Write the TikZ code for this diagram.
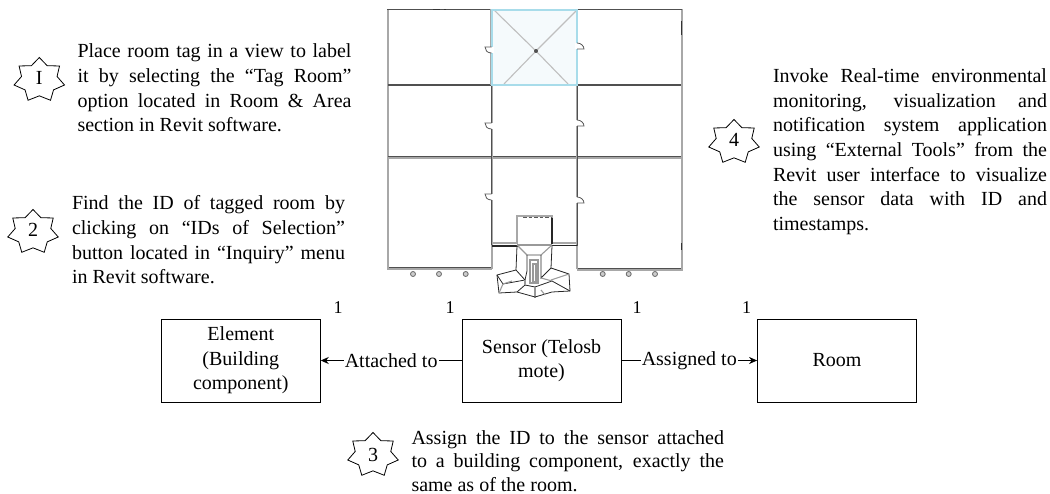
\documentclass[tikz,border=0pt]{standalone}
\usepackage{fontspec}
\setmainfont{Liberation Serif}
\usetikzlibrary{shapes.geometric,arrows.meta}
\definecolor{wallgray}{HTML}{A8A8A8}
\definecolor{walldark}{HTML}{505050}
\definecolor{roomfill}{HTML}{F5FAFC}
\definecolor{roomblue}{HTML}{A8DCEA}
\newcommand{\jblock}[3]{\parbox[t]{#1}{\fontsize{20}{#2}\selectfont #3}}
\tikzset{
  txt/.style={anchor=base west,inner sep=0pt,outer sep=0pt},
  burst/.style={star,star points=7,star point ratio=1.42,draw=black,line width=0.8pt,minimum size=45pt,inner sep=0pt,outer sep=0pt,xscale=1.15,transform shape},
  burstnum/.style={font=\fontsize{20}{24}\selectfont,inner sep=0pt},
  ebox/.style={draw=black,line width=0.85pt,minimum width=159pt,minimum height=83pt,inner sep=0pt,align=center,font=\fontsize{20}{24.6}\selectfont},
  one/.style={font=\fontsize{18}{20}\selectfont,inner sep=0pt},
  rel/.style={draw=black,line width=0.85pt},
  relhead/.style={-{Stealth[length=8pt,width=7pt]}},
  rellabel/.style={font=\fontsize{20}{24}\selectfont,fill=white,inner sep=1pt},
  wall/.style={draw=wallgray,line width=2.4pt},
  dwall/.style={draw=walldark,line width=1.6pt},
  thin wall/.style={draw=black!85,line width=0.8pt},
  pale wall/.style={draw=black!40,line width=1.1pt},
  door/.style={draw=black!65,line width=0.8pt},
  col/.style={draw=black!60,fill=black!20,line width=0.8pt,circle,minimum size=5pt,inner sep=0pt}
}
\begin{document}
\begin{tikzpicture}[x=1pt,y=-1pt]
\useasboundingbox (0,0) rectangle (1050,494);
% floor plan
\fill[roomfill] (492,10) rectangle (577,85);
\draw[pale wall,draw=black!25] (494,10) -- (536,51) -- (577,10);
\draw[pale wall,draw=black!25] (504,84) -- (536,51) -- (568,84);
\fill[walldark] (536,51) circle (2pt);
\draw[wall] (388,9) -- (388,269) -- (491.5,269);
\draw[wall] (577,269.5) -- (682,269.5) -- (682,9);
\draw[dwall] (387,9.5) -- (491,9.5);
\draw[dwall] (578,9.5) -- (682,9.5);
\draw[dwall] (388,85) -- (492,85);
\draw[dwall] (578,85) -- (681,85);
\draw[wall] (388,157.5) -- (492,157.5);
\draw[wall] (578,157.5) -- (681,157.5);
\draw[wall] (492,157.5) -- (577,157.5);
\draw[dwall,line width=1pt] (388,156.6) -- (681,156.6);
\draw[wall] (491.5,9) -- (491.5,85);
\draw[wall] (491.7,85) -- (491.7,269);
\draw[dwall] (491.5,85) -- (491.5,245);
\draw[wall] (577,85) -- (577,269);
\draw[walldark,line width=0.9pt] (577.8,85) -- (577.8,246);
\draw[walldark,line width=0.9pt] (389,267.8) -- (491,267.8);
\draw[walldark,line width=0.9pt] (578,268.3) -- (681,268.3);
\draw[black!80,line width=1.6pt] (433,9.5) -- (440,9.5) (444,9.5) -- (446,9.5);
\draw[black!80,line width=1.5pt] (681.5,21) -- (681.5,35) (681.5,243) -- (681.5,250);
\draw[draw=roomblue,line width=1.1pt] (492,10) rectangle (577,85);
% doors
\foreach \yy in {47,123,194}{
  \fill[white] (488,\yy) rectangle (494,\yy+6);
  \draw[door] (491.5,\yy+6) .. controls (487,\yy+6) and (485,\yy+3) .. (485,\yy) -- (491.5,\yy);
}
\foreach \yy in {43,120,197}{
  \fill[white] (575,\yy) rectangle (579,\yy+6);
  \draw[door] (577,\yy) .. controls (581,\yy) and (584,\yy+3) .. (584,\yy+6) -- (577,\yy+6);
}
% entrance
\draw[wall] (491.7,243) -- (517,243) -- (517,216) -- (552,216) -- (552,243) -- (577,243);
\draw[thin wall,line width=1.1pt] (491.7,246) -- (519,246) (550,245.5) -- (577,245.5);
\draw[thin wall,line width=1.1pt] (552,218) -- (552,244);
\draw[black!65,line width=1.6pt,dash pattern=on 3.5pt off 2pt] (523,217.5) -- (552,217.5);
\draw[pale wall] (517,245) -- (552,245);
\draw[pale wall] (517,245) -- (527,255) -- (541,255) -- (552,245);
\draw[thin wall] (517,246) -- (516,270) -- (497,275) -- (499,293) -- (517,292);
\draw[thin wall] (527,255) -- (527,271) -- (525,280);
\draw[thin wall] (541,255) -- (541,278) -- (551,268) -- (552,246);
\draw[pale wall] (530,260) rectangle (538,283);
\draw[pale wall] (533,264) rectangle (536,282);
\draw[thin wall] (516,270) -- (525,280) -- (503,284) -- (497,275);
\draw[pale wall] (503,284) -- (499,293) (503,284) -- (512,281);
\draw[thin wall] (517,292) -- (525,285) -- (535,287) -- (552,281) -- (570,291);
\draw[pale wall] (525,280) -- (525,285) (535,287) -- (535,298);
\draw[thin wall] (517,292) -- (535,297) -- (552,292) -- (570,291) -- (569,274) -- (551,268);
\draw[pale wall] (551,280) -- (569,274) (541,278) -- (552,281) (541,290) -- (545,295);
% columns
\foreach \xx/\nm in {413/a,439/b,465.7/c,602.7/d,628.7/e,655/f}{
  \node[col] (col\nm) at (\xx,274) {};
}
% text blocks
\node[txt] (t1) at (77.5,58) {\jblock{274pt}{24.6}{Place room tag in a view to label\linebreak it by selecting the “Tag Room”\linebreak option located in Room \& Area\linebreak section in Revit software.}};
\node[txt] (t2) at (72,210) {\jblock{273pt}{24.6}{Find the ID of tagged room by\linebreak clicking on “IDs of Selection”\linebreak button located in “Inquiry” menu\linebreak in Revit software.}};
\node[txt] (t3) at (411.5,444) {\jblock{312.5pt}{23.8}{Assign the ID to the sensor attached\linebreak to a building component, exactly the\linebreak same as of the room.}};
\node[txt] (t4) at (773,82.7) {\jblock{274pt}{24.6}{Invoke Real-time environmental\linebreak monitoring, visualization and\linebreak notification system application\linebreak using “External Tools” from the\linebreak Revit user interface to visualize\linebreak the sensor data with ID and\linebreak timestamps.}};
% stars
\node[burst] (s1) at (39.3,80) {};
\node[burstnum] (n1) at (39.3,78) {I};
\node[burst] (s2) at (33,232) {};
\node[burstnum] (n2) at (33,230) {2};
\node[burst] (s3) at (373,455) {};
\node[burstnum] (n3) at (373,454.5) {3};
\node[burst] (s4) at (734,142) {};
\node[burstnum] (n4) at (734,140) {4};
% entity boxes
\node[ebox] (element) at (240.8,360.5) {Element\\(Building\\component)};
\node[ebox] (sensor) at (541.5,360.5) {Sensor (Telosb\\mote)};
\node[ebox] (room) at (837,360.5) {Room};
\draw[rel,relhead] (sensor) -- node[rellabel] (l1) {Attached to} (element);
\draw[rel,relhead] (sensor) -- node[rellabel] (l2) {Assigned to} (room);
% cardinalities
\node[one] (c1) at (338,308) {1};
\node[one] (c2) at (450,308) {1};
\node[one] (c3) at (637,308) {1};
\node[one] (c4) at (746.7,308) {1};
\end{tikzpicture}
\end{document}
